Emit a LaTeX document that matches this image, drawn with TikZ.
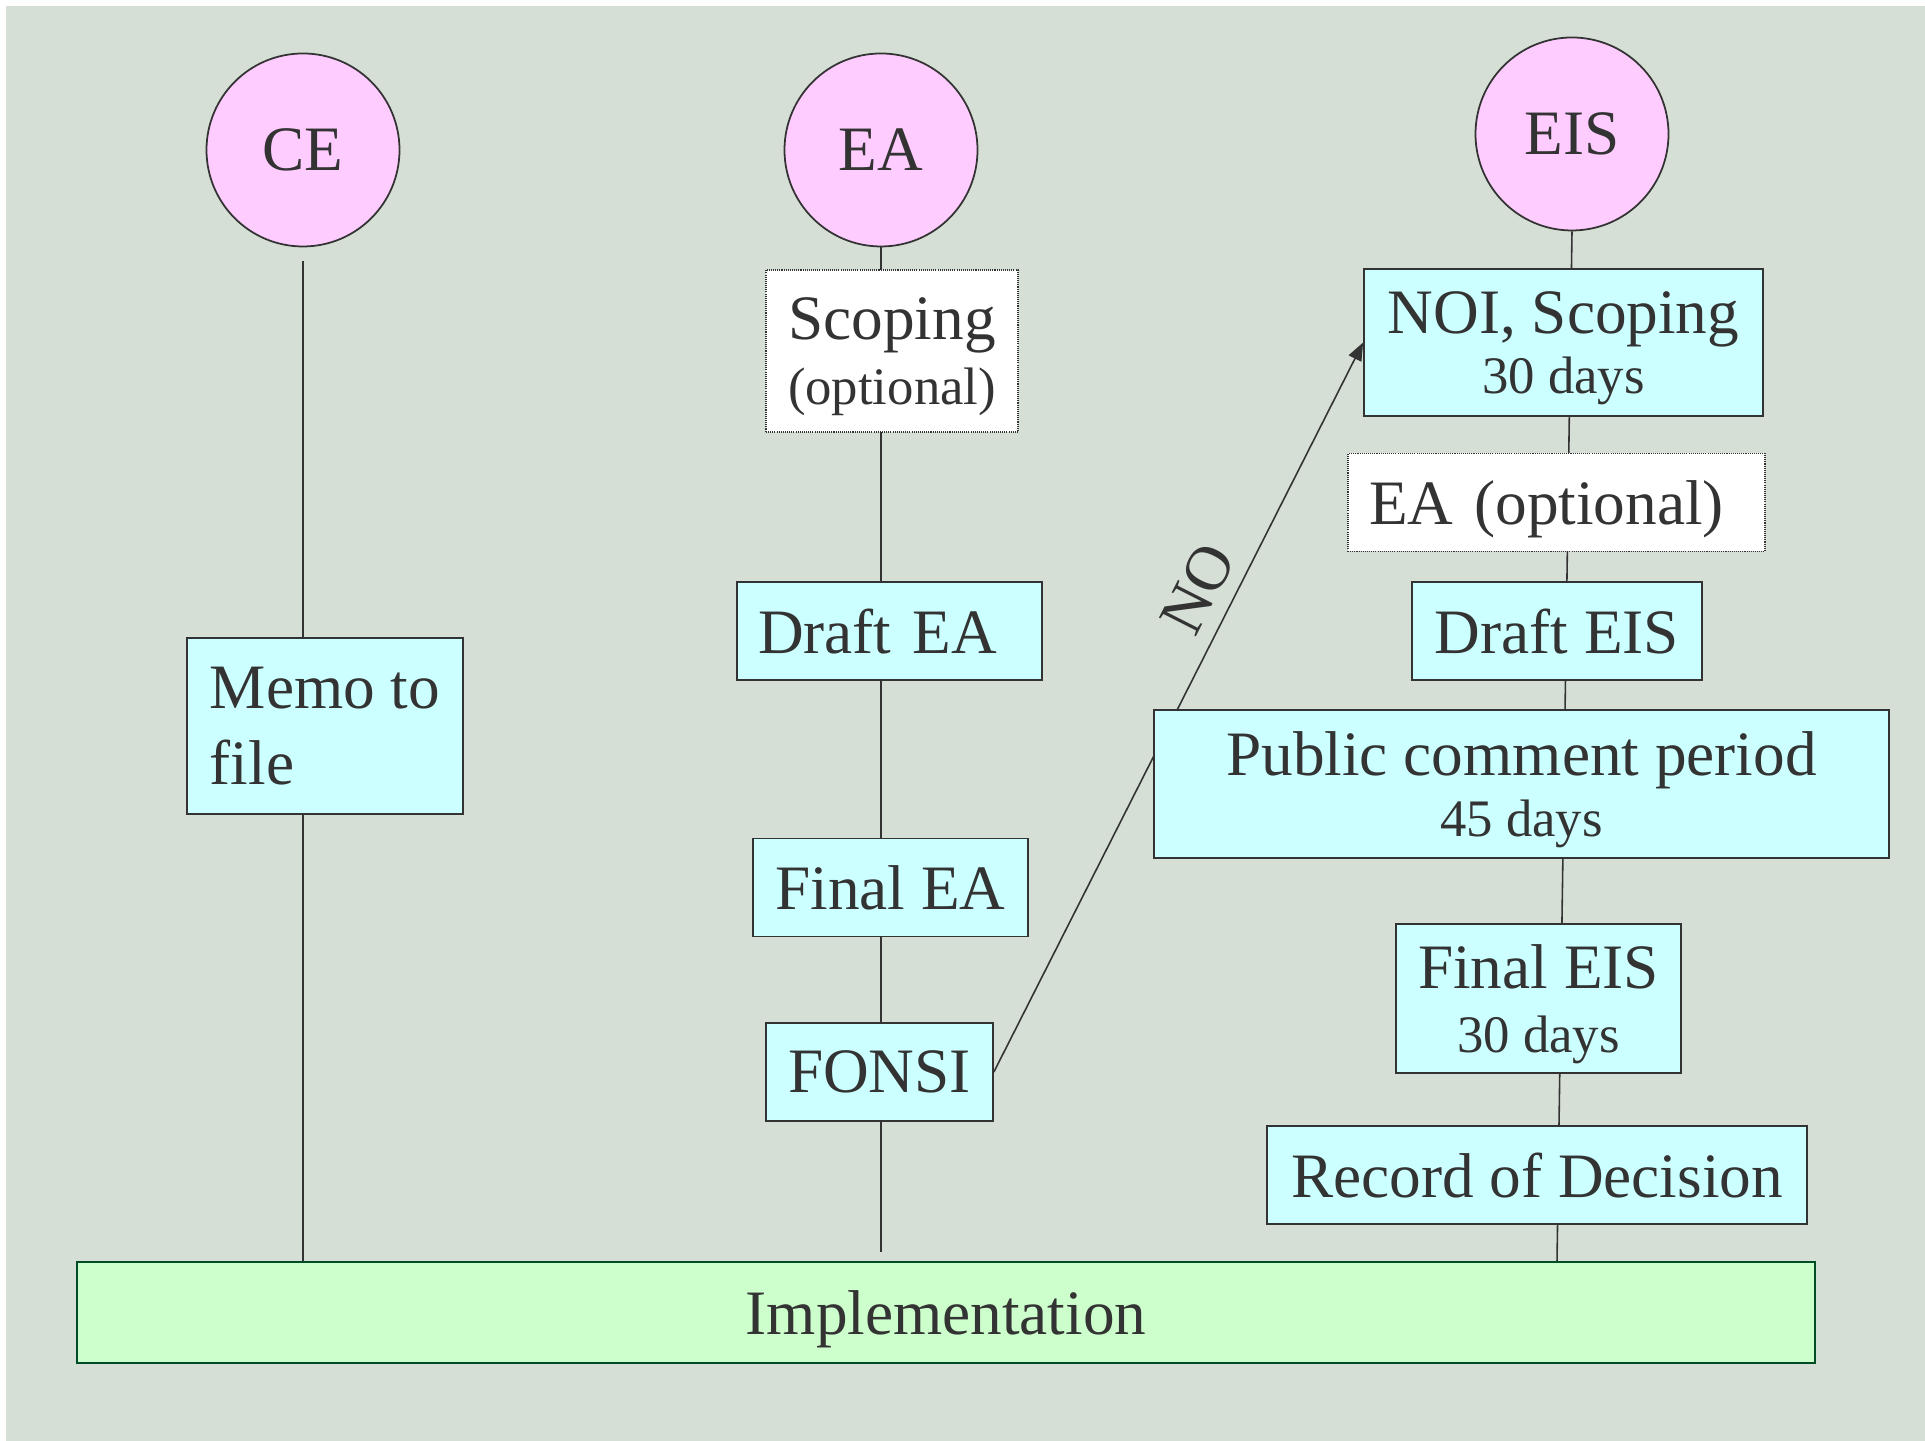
\documentclass[tikz,border=0pt]{standalone}
\usepackage{fontspec}
\setmainfont{Liberation Serif}
\usetikzlibrary{arrows.meta,backgrounds}

\newcommand{\bigtxt}{\fontsize{18}{21.6}\selectfont}
\newcommand{\smalltxt}{\fontsize{15}{18}\selectfont}

\begin{document}
\begin{tikzpicture}[>={Triangle[length=0.18cm, width=0.14cm]},
  stage/.style={draw=inkgray, fill=stagecyan, line width=0.5pt, text=inkgray, font=\bigtxt,
    inner xsep=0.21cm, inner ysep=0pt, text depth=0pt, minimum height=0.98cm, align=center},
  optstage/.style={stage, fill=white, dash pattern=on 0.3pt off 0.3pt},
  kind/.style={circle, draw=inkgray, fill=kindpink, line width=0.5pt, text=inkgray, font=\bigtxt,
    minimum size=1.93cm, inner sep=0pt},
  flow/.style={draw=inkgray, line width=0.45pt}]

\definecolor{panelgray}{RGB}{214,223,214}
\definecolor{stagecyan}{RGB}{204,255,255}
\definecolor{kindpink}{RGB}{255,204,255}
\definecolor{implgreen}{RGB}{204,255,204}
\definecolor{impledge}{RGB}{0,76,38}
\definecolor{inkgray}{RGB}{51,51,51}

\useasboundingbox (0,0) rectangle (19.25,14.41);

\node[kind] (ce) at (3.03,12.91) {CE};
\node[kind] (ea) at (8.81,12.91) {EA};
\node[kind] (eis) at (15.72,13.07) {EIS};

% CE column
\node[stage, minimum width=2.76cm, minimum height=1.76cm, align=left] (memo) at (3.25,7.15) {Memo to\\file};

% EA column
\node[optstage, minimum width=2.52cm, minimum height=1.62cm] (scoping) at (8.92,10.90) {Scoping\\[-3pt]{\smalltxt (optional)}};
\node[stage, text width=2.63cm, align=left] (draftea) at (8.895,8.10) {Draft EA};
\node[stage, minimum width=2.75cm] (finalea) at (8.905,5.535) {Final EA};
\node[stage, minimum width=2.27cm] (fonsi) at (8.795,3.69) {FONSI};

% EIS column
\node[stage, minimum width=3.99cm, minimum height=1.47cm] (noi) at (15.635,10.985) {NOI, Scoping\\[-4.5pt]{\smalltxt 30 days}};
\node[optstage, text width=3.75cm, align=left] (eaopt) at (15.565,9.385) {EA (optional)};
\node[stage, minimum width=2.90cm] (drafteis) at (15.57,8.10) {Draft EIS};
\node[stage, minimum width=7.35cm, minimum height=1.48cm] (public) at (15.215,6.57) {Public comment period\\[-4pt]{\smalltxt 45 days}};
\node[stage, minimum width=2.85cm, minimum height=1.49cm] (finaleis) at (15.385,4.425) {Final EIS\\[-3.5pt]{\smalltxt 30 days}};
\node[stage, minimum width=5.40cm] (rod) at (15.37,2.66) {Record of Decision};

\node[stage, fill=implgreen, draw=impledge, line width=0.8pt, minimum width=17.38cm, minimum height=1.01cm] (impl) at (9.46,1.285) {Implementation};

\begin{scope}[on background layer]
\fill[white] (0,0) rectangle (19.25,14.41);
\fill[panelgray] (0.06,0) rectangle (19.25,14.35);
\draw[flow, shorten <=0.14cm, shorten >=-0.08cm] (ce.south) -- (ce.south |- impl.north);
\draw[flow, shorten >=0.09cm] (ea.south) -- (ea.south |- impl.north);
\coordinate (eisfoot) at (15.57,1.79);
\draw[flow] (eis.south) -- (eisfoot);
\draw[flow, ->] (fonsi.east) -- (noi.west)
  node[pos=0.64, sloped, above, inner sep=4pt, text=inkgray, font=\bigtxt] (no) {NO};
\end{scope}

\end{tikzpicture}
\end{document}
